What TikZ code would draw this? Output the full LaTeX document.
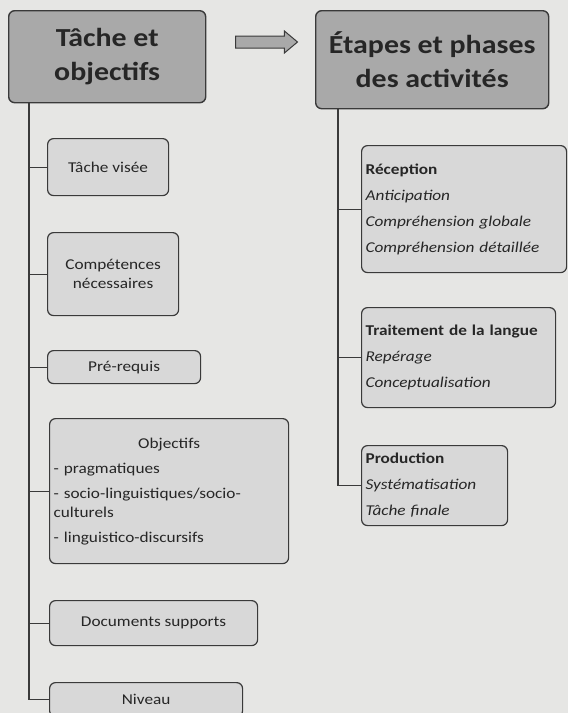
\documentclass[tikz,border=0pt]{standalone}
\usepackage{fontspec}
\setmainfont{Carlito}[FakeStretch=1.15]
\usetikzlibrary{positioning,shapes.arrows}
\definecolor{paper}{HTML}{E6E6E4}
\definecolor{headfill}{HTML}{A9A9A9}
\definecolor{boxfill}{HTML}{D8D8D8}
\definecolor{edge}{HTML}{3A3A3A}
\tikzset{
  head/.style={draw=edge, line width=1.4pt, rounded corners=6pt, fill=headfill,
    font=\fontsize{26}{34}\selectfont\bfseries, text=black!85, align=center,
    anchor=north west, inner sep=0pt},
  item/.style={draw=edge, line width=1.2pt, rounded corners=6pt, fill=boxfill,
    font=\fontsize{15}{19}\selectfont, text=black!85, align=center,
    anchor=north west, inner sep=0pt},
  phase/.style={item, align=left, font=\fontsize{15}{26}\selectfont, inner xsep=4pt},
  trunk/.style={draw=edge, line width=1.4pt},
  twig/.style={draw=edge, line width=1pt},
  bigarrow/.style={single arrow, draw=edge, line width=1pt, fill=headfill,
    minimum height=62pt, inner xsep=0pt, inner ysep=5.5pt,
    single arrow head extend=5pt, single arrow tip angle=80},
}
\begin{document}
\begin{tikzpicture}[x=1pt, y=-1pt]
  \useasboundingbox (0,0) rectangle (568,713);
  \clip (0,0) rectangle (568,713);
  \fill[paper] (0,0) rectangle (568,713);
  % headers
  \node[head, minimum width=197pt, minimum height=92pt] (tache) at (8,10) {Tâche et\\objectifs};
  \node[head, minimum width=233pt, minimum height=98pt] (etapes) at (315,10) {Étapes et phases\\des activités};
  \node[bigarrow, anchor=west] (fleche) at (235,42) {};
  % left column
  \node[item, minimum width=121pt, minimum height=57pt] (visee) at (47,138) {Tâche visée};
  \node[item, minimum width=131pt, minimum height=83pt] (compet) at (47,232) {Compétences\\nécessaires};
  \node[item, minimum width=153pt, minimum height=33pt] (prereq) at (47,350) {Pré-requis};
  \node[item, align=left, text width=231pt, minimum height=145pt, inner xsep=4pt] (objec) at (49,418)
    {\centerline{Objectifs}\\[6pt]- pragmatiques\\[6pt]- socio-linguistiques/socio-\\culturels\\[6pt]- linguistico-discursifs};
  \node[item, minimum width=208pt, minimum height=45pt] (docs) at (49,600) {Documents supports};
  \node[item, minimum width=193pt, minimum height=34pt] (niveau) at (49,682) {Niveau};
  % right column
  \node[phase, text width=197pt, minimum height=127pt] (recep) at (361,145)
    {\textbf{Réception}\\\textit{Anticipation}\\\textit{Compréhension globale}\\\textit{Compréhension détaillée}};
  \node[phase, text width=186pt, minimum height=100pt] (trait) at (361,307)
    {\textbf{Traitement de la langue}\\\textit{Repérage}\\\textit{Conceptualisation}};
  \node[phase, text width=138pt, minimum height=80pt] (prod) at (361,445)
    {\textbf{Production}\\\textit{Systématisation}\\\textit{Tâche finale}};
  % trunks
  \coordinate (lt) at (29,0);
  \coordinate (rt) at (338,0);
  \draw[trunk] (tache.south -| lt) |- (niveau.west);
  \draw[trunk] (etapes.south -| rt) |- (prod.west);
  \foreach \n in {visee,compet,prereq,objec,docs}
    \draw[twig] (\n.west -| lt) -- (\n.west);
  \foreach \n in {recep,trait}
    \draw[twig] (\n.west -| rt) -- (\n.west);
\end{tikzpicture}
\end{document}
